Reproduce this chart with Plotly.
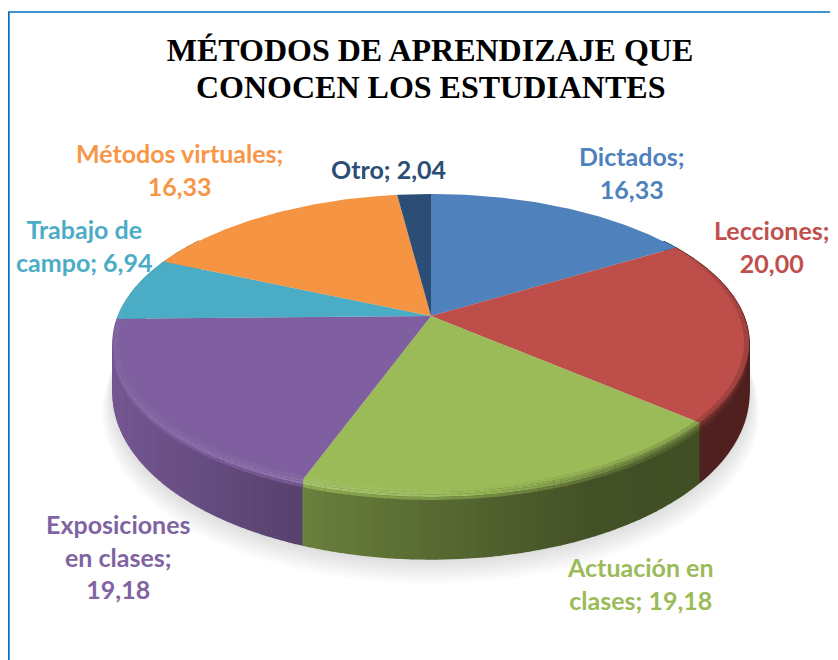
import numpy as np
import plotly.graph_objects as go

categories = ["Dictados", "Lecciones", "Actuación en clases", "Exposiciones en clases",
              "Trabajo de campo", "Métodos virtuales", "Otro"]
values = [16.33, 20.00, 19.18, 19.18, 6.94, 16.33, 2.04]
label_prefix = ["Dictados;<br>", "Lecciones;<br>", "Actuación en<br>clases; ",
                "Exposiciones<br>en clases;<br>", "Trabajo de<br>campo; ",
                "Métodos virtuales;<br>", "Otro; "]
colors = ["#4f81bd", "#bd4e4a", "#9bbb59", "#7f5f9f", "#4aacc5", "#f59543", "#2c4d75"]
label_colors = ["#4f81bd", "#c0504d", "#9bbb59", "#8064a2", "#4bacc6", "#f79646", "#2c4d75"]
title_lines = ["MÉTODOS DE APRENDIZAJE QUE", "CONOCEN LOS ESTUDIANTES"]

# Layout of the drawing (pixel-like scale of the axes)
label_x = [632, 771, 640, 118, 84, 179, 388]
label_y = [172, 246, 583, 556, 245, 169, 169]
CX, CY, R, A, P = 431, 316, 312.7, 144.1, 0.181


def proj(theta, r=1.0):
    u, v = r * np.sin(theta), r * np.cos(theta)
    w = 1 + P * v
    return CX + R * u / w, CY - A * v / w


def depth(theta):
    return 46 - 21 * np.cos(theta)


def rgb(hex_color, f):
    c = np.array([int(hex_color[i:i + 2], 16) for i in (1, 3, 5)], float)
    c = c * f if f <= 1 else c + (255 - c) * (f - 1)
    return "rgb(%d,%d,%d)" % tuple(np.clip(c, 0, 255).astype(int))


def poly(fig, xs, ys, color, width=1.5):
    fig.add_trace(go.Scatter(x=xs, y=ys, mode="lines", fill="toself", fillcolor=color,
                             line=dict(color=color, width=width),
                             hoverinfo="skip", showlegend=False))


fig = go.Figure()
fractions = np.array(values) / sum(values)
edges = np.concatenate([[0], np.cumsum(fractions)]) * 2 * np.pi

# soft shadow
t = np.linspace(0, 2 * np.pi, 180)
for k in range(8, 0, -1):
    x, y = proj(t, 1 + 0.004 * k)
    poly(fig, x, y + depth(t) + 2.2 * k, "rgba(0,0,0,0.016)", width=0)

# side wall
strips = []
for i in range(len(values)):
    n = max(2, int((edges[i + 1] - edges[i]) / np.radians(1.2)))
    ts = np.linspace(edges[i], edges[i + 1], n + 1)
    for a, b in zip(ts[:-1], ts[1:]):
        if np.radians(55) < (a + b) / 2 < np.radians(305):
            strips.append((i, a, b))
strips.sort(key=lambda s: -abs((s[1] + s[2]) / 2 - np.pi))
XS = [112, 300, 430, 600, 750]
WALL = [0.92, 0.69, 0.57, 0.43, 0.42]
for i, a, b in strips:
    tt = np.array([a, b])
    x, y = proj(tt)
    f = np.interp(x.mean(), XS, WALL)
    xs = np.concatenate([x, x[::-1]])
    ys = np.concatenate([y, (y + depth(tt))[::-1]])
    poly(fig, xs, ys, rgb(colors[i], f))

# top face
for i in range(len(values)):
    tt = np.linspace(edges[i], edges[i + 1], 80)
    x, y = proj(tt)
    poly(fig, np.r_[CX, x], np.r_[CY, y], colors[i], width=0)

# bevel along the front rim
for i, a, b in strips:
    tt = np.array([a, b])
    x, y = proj(tt)
    xm = x.mean()
    mid = (a + b) / 2
    wall = np.interp(xm, XS, WALL)
    hl = np.interp(xm, [112, 300, 430, 560, 650, 750], [1.10, 1.14, 1.06, 0.85, 0.65, 0.55])
    fade = np.clip((min(mid, 2 * np.pi - mid) - np.radians(62)) / np.radians(35), 0, 1)
    bands = [(0.985, 1.0, 0, 0, 0.35), (1.0, 1.0, 0, 2.5, 0.75), (1.0, 1.0, 2.5, 5, 1.0)]
    for r0, r1, off0, off1, w in bands:
        x0, y0 = proj(tt, r0)
        x1, y1 = proj(tt, r1)
        g = 1 + (hl - 1) * w * fade
        poly(fig, np.r_[x0, x1[::-1]], np.r_[y0 + off0 * fade, (y1 + off1 * fade)[::-1]],
             rgb(colors[i], g), width=0)
    x0, y0 = proj(tt, 1.0)
    g = (hl + wall) / 2 * fade + (1 - fade) * wall
    poly(fig, np.r_[x0, x0[::-1]], np.r_[y0 + 5 * fade, (y0 + 8 * fade)[::-1]],
         rgb(colors[i], g), width=0)

annotations = [dict(x=430, y=87, xref="x", yref="y", showarrow=False,
                    text="<b>%s</b>" % title_lines[1],
                    font=dict(family="Liberation Serif", size=32, color="black"),
                    xanchor="center", yanchor="middle")]
for i, v in enumerate(values):
    annotations.append(dict(x=label_x[i], y=label_y[i], xref="x", yref="y", showarrow=False,
                            text="<b>%s%s</b>" % (label_prefix[i], ("%.2f" % v).replace(".", ",")),
                            font=dict(family="Lato", size=25, color=label_colors[i]),
                            xanchor="center", yanchor="middle", align="center"))

# the page adds an 8 px margin round the figure, so the axes start at 8
fig.update_layout(
    width=830, height=652, margin=dict(l=0, r=0, t=0, b=0),
    paper_bgcolor="white", plot_bgcolor="white", showlegend=False,
    title=dict(text="<b>%s</b>" % title_lines[0], x=(430 - 8) / 830, xanchor="center",
               y=1 - (50 - 8) / 652, yanchor="middle",
               font=dict(family="Liberation Serif", size=32, color="black")),
    xaxis=dict(range=[8, 838], visible=False, fixedrange=True),
    yaxis=dict(range=[660, 8], visible=False, fixedrange=True),
    annotations=annotations,
    shapes=[dict(type="line", xref="x", yref="y", x0=8.8, x1=8.8, y0=12, y1=660,
                 line=dict(color="#0070c0", width=1.8)),
            dict(type="line", xref="x", yref="y", x0=8, x1=838, y0=12, y1=12,
                 line=dict(color="#0070c0", width=1.3))],
)
fig.write_html("out.html")
